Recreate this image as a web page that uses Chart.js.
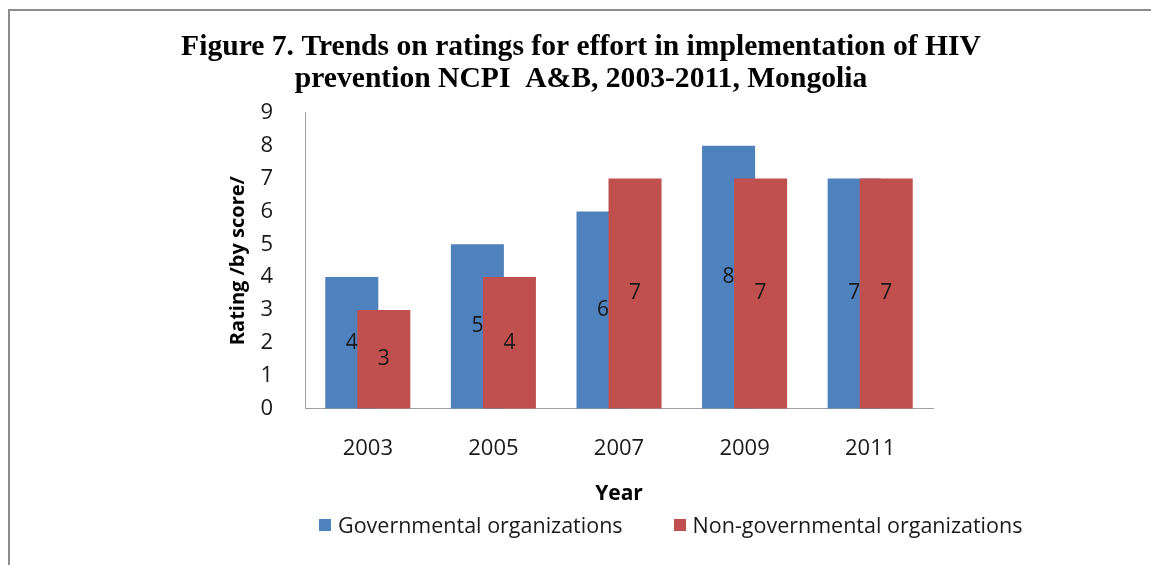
<!DOCTYPE html>
<html>
<head>
<meta charset="utf-8">
<title>Figure 7 - NCPI ratings, Mongolia</title>
<script src="https://cdn.jsdelivr.net/npm/chart.js@4.4.1/dist/chart.umd.min.js"></script>
<style>
	body { margin: 0; background: #fff; }
	#wrap { position: relative; width: 1151px; height: 565px; overflow: hidden; }
	#frame { position: absolute; left: 8px; top: 9px; width: 1200px; height: 600px;
	         border: 2px solid #8c8c8c; box-sizing: border-box; pointer-events: none; }
	#ncpi-viz { position: absolute; left: 0; top: 0; }
	#ncpi-legend { position: absolute; left: 319px; top: 510px; display: flex; gap: 51px;
	               font-family: 'Open Sans', sans-serif; font-size: 21.5px; color: #1a1a1a; }
	#ncpi-legend .item { display: flex; align-items: center; white-space: nowrap; }
	#ncpi-legend .box { width: 12px; height: 12px; margin-right: 7px; }
</style>
</head>
<body>
<div id="wrap">
	<canvas id="ncpi-viz" width="1151" height="565"></canvas>
	<div id="ncpi-legend"></div>
	<div id="frame"></div>
</div>
<script>
// Ratings (NCPI A&B, 2003-2011)
var years = [ '2003', '2005', '2007', '2009', '2011' ];
var gov_ratings = [ 4, 5, 6, 8, 7 ];
var ngo_ratings = [ 3, 4, 7, 7, 7 ];
var y_min = 0, y_max = 9, y_step = 1;

var chart_title = [ 'Figure 7. Trends on ratings for effort in implementation of HIV',
                    'prevention NCPI  A&B, 2003-2011, Mongolia' ];
var xAxis_label = 'Year';
var yAxis_label = 'Rating /by score/';

var tick_font = { family: 'Open Sans', size: 22 };
var text_color = '#1a1a1a';

// Draw first dataset first so the red bars sit over the blue ones
var drawOrderPlugin = {
	id: 'drawOrder',
	beforeDatasetsDraw: function(chart) {
		chart.getSortedVisibleDatasetMetas().forEach(function(meta) { meta.controller.draw(); });
		return false;
	}
};

// Value labels in the middle of each bar
var barLabelPlugin = {
	id: 'barLabels',
	afterDraw: function(chart) {
		var ctx = chart.ctx;
		ctx.save();
		ctx.font = '21px Open Sans';
		ctx.fillStyle = text_color;
		ctx.textAlign = 'center';
		ctx.textBaseline = 'middle';
		chart.data.datasets.forEach(function(ds, i) {
			chart.getDatasetMeta(i).data.forEach(function(bar, j) {
				ctx.fillText(ds.data[j], bar.x, (bar.y + bar.base) / 2);
			});
		});
		ctx.restore();
	}
};

// HTML legend built from the chart's own legend items
var htmlLegendPlugin = {
	id: 'htmlLegend',
	afterUpdate: function(chart) {
		var el = document.getElementById('ncpi-legend');
		el.innerHTML = '';
		chart.options.plugins.legend.labels.generateLabels(chart).forEach(function(item) {
			var li = document.createElement('div');
			li.className = 'item';
			var box = document.createElement('span');
			box.className = 'box';
			box.style.background = item.fillStyle;
			li.appendChild(box);
			li.appendChild(document.createTextNode(item.text));
			el.appendChild(li);
		});
	}
};

var ctx = document.getElementById('ncpi-viz');
var cfg = {
	type: 'bar',
	data: {
		labels: years,
		datasets: [
			{ label: 'Governmental organizations', backgroundColor: '#4f81bd', borderWidth: 0, data: gov_ratings },
			{ label: 'Non-governmental organizations', backgroundColor: '#c0504d', borderWidth: 0, data: ngo_ratings }
		]
	},
	options: {
		responsive: false,
		animation: false,
		datasets: { bar: { categoryPercentage: 0.51, barPercentage: 1.656 } },
		// wide title box, centred a bit left of the plot
		layout: { padding: { left: 100, right: 89, top: 0, bottom: 58 } },
		plugins: {
			legend: { display: false },
			tooltip: { enabled: false },
			title: { display: true,
			         text: chart_title,
			         color: '#000',
			         font: { family: 'Liberation Serif', size: 29.6, weight: 'bold', lineHeight: 1.08 },
			         padding: { top: 31, bottom: 18 }
			}
		},
		scales: {
			x: {
				grid: { display: false, drawTicks: false },
				border: { color: '#a0a0a0' },
				ticks: { color: text_color, font: tick_font, padding: 27 },
				title: { display: true, text: xAxis_label, color: '#000',
				         font: { family: 'Open Sans', size: 21, weight: 'bold' },
				         padding: { top: -7, bottom: 0 } }
			},
			y: {
				min: y_min, max: y_max,
				grid: { display: false, drawTicks: false },
				border: { color: '#a0a0a0' },
				ticks: { stepSize: y_step, color: text_color, font: tick_font, padding: 32 },
				title: { display: true, text: yAxis_label, color: '#000',
				         font: { family: 'Open Sans', size: 20, weight: 'bold' },
				         padding: { top: 126, bottom: 10 } },
				afterFit: function(scale) { scale.width = 205; }
			},
			// empty right-hand axis, only keeps the plot at its width
			ySpacer: {
				type: 'linear',
				position: 'right',
				grid: { display: false },
				border: { display: false },
				ticks: { display: false },
				afterFit: function(scale) { scale.width = 129; }
			}
		}
	},
	plugins: [ drawOrderPlugin, barLabelPlugin, htmlLegendPlugin ]
};
new Chart(ctx, cfg);
</script>
</body>
</html>
